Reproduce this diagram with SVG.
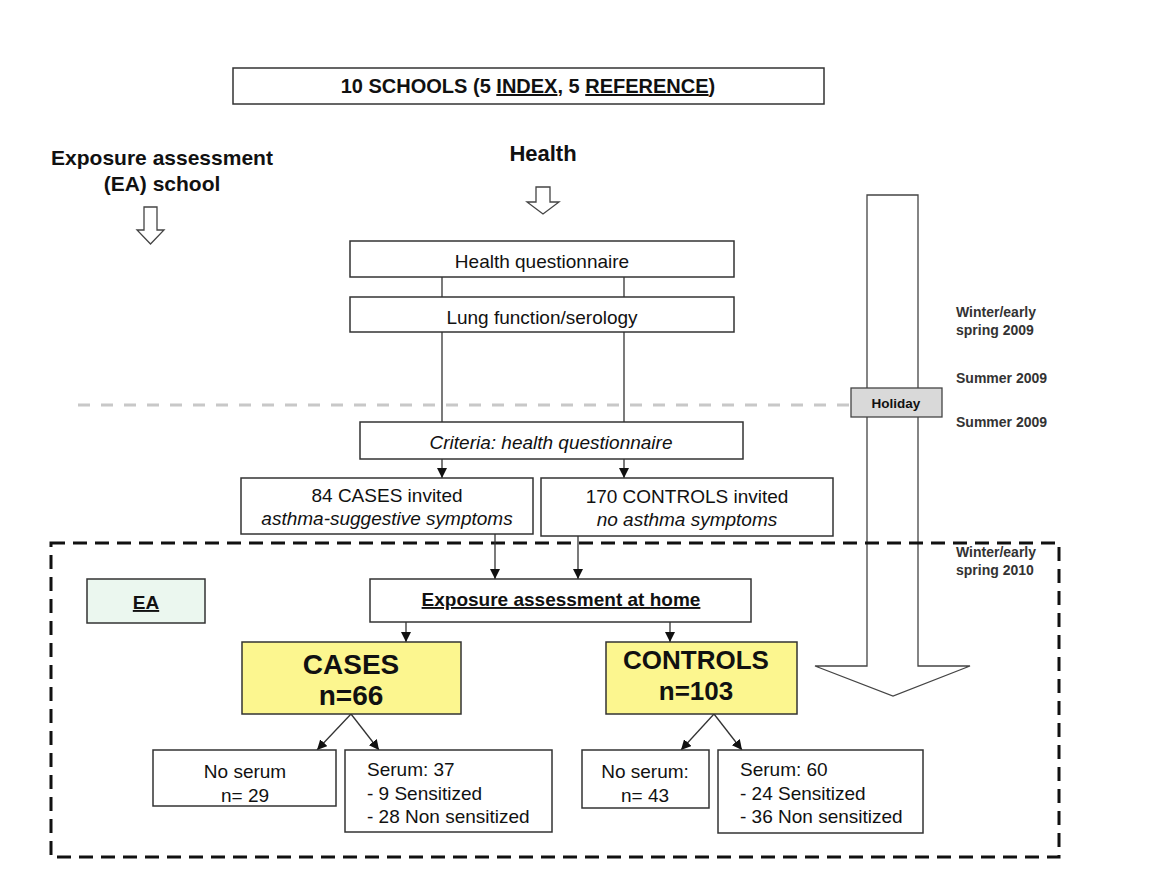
<svg xmlns="http://www.w3.org/2000/svg" width="1155" height="869" viewBox="0 0 1155 869">
<style>
text{font-family:"Liberation Sans",Arial,sans-serif;fill:#111}
.box{fill:#fff;stroke:#333;stroke-width:1.5}
.yel{fill:#fcf68f;stroke:#333;stroke-width:1.5}
.c{text-anchor:middle}
.b{font-weight:bold}
.i{font-style:italic}
.m{font-size:19px}
.ln{stroke:#333;stroke-width:1.3;fill:none}
.ar{stroke:#333;stroke-width:1.3;fill:none;marker-end:url(#ah)}
.side{font-size:14px;font-weight:bold;fill:#333}
.hol{fill:#fff;stroke:#444;stroke-width:1.3}
</style>
<defs>
<marker id="ah" viewBox="0 0 10 10" refX="10" refY="5" markerWidth="10" markerHeight="10" markerUnits="userSpaceOnUse" orient="auto">
<path d="M0,0 L10,5 L0,10 z" fill="#111"/>
</marker>
</defs>
<rect width="1155" height="869" fill="#fff"/>

<g id="schools">
<rect class="box" x="233" y="68" width="591" height="36"/>
<text class="c b" x="528" y="93" font-size="20">10 SCHOOLS (5 <tspan text-decoration="underline">INDEX</tspan>, 5 <tspan text-decoration="underline">REFERENCE</tspan>)</text>
</g>

<g id="ea-school">
<text class="c b" x="162" y="165" font-size="21">Exposure assessment</text>
<text class="c b" x="162" y="191" font-size="21">(EA) school</text>
<path class="hol" d="M144,207 H157 V230 H164 L150.5,244 L137,230 H144 Z"/>
</g>

<g id="health">
<text class="c b" x="543" y="161" font-size="22">Health</text>
<path class="hol" d="M536,187 H550 V202 H559 L543,214 L527,202 H536 Z"/>
</g>

<g id="timeline">
<path class="hol" d="M867,195 H918 V666 H970 L893,696 L815,666 H867 Z"/>
</g>

<g id="holiday-line">
<line x1="78" y1="405" x2="850" y2="405" stroke="#c8c8c8" stroke-width="3" stroke-dasharray="12,11"/>
</g>

<g id="holiday">
<rect x="851" y="388" width="91" height="29" fill="#d9d9d9" stroke="#444" stroke-width="1.3"/>
<text class="c b" x="896" y="408" font-size="13.5">Holiday</text>
</g>

<g id="period-labels">
<text class="side" x="956" y="317">Winter/early</text>
<text class="side" x="956" y="335">spring 2009</text>
<text class="side" x="956" y="383">Summer 2009</text>
<text class="side" x="956" y="427">Summer 2009</text>
<text class="side" x="956" y="557">Winter/early</text>
<text class="side" x="956" y="575">spring 2010</text>
</g>

<g id="ea-box-frame">
<rect x="51" y="543" width="1008" height="314" fill="none" stroke="#111" stroke-width="3" stroke-dasharray="14,8"/>
</g>

<g id="connectors">
<line class="ln" x1="442" y1="277" x2="442" y2="297"/>
<line class="ln" x1="624" y1="277" x2="624" y2="297"/>
<line class="ln" x1="442" y1="332" x2="442" y2="422"/>
<line class="ln" x1="624" y1="332" x2="624" y2="422"/>
<line class="ar" x1="442" y1="459" x2="442" y2="478"/>
<line class="ar" x1="624" y1="459" x2="624" y2="478"/>
<line class="ar" x1="495" y1="534" x2="495" y2="579"/>
<line class="ar" x1="578" y1="536" x2="578" y2="579"/>
<line class="ar" x1="406" y1="622" x2="406" y2="642"/>
<line class="ar" x1="670" y1="622" x2="670" y2="642"/>
<line class="ar" x1="351" y1="714" x2="317" y2="750"/>
<line class="ar" x1="351" y1="714" x2="379" y2="750"/>
<line class="ar" x1="714" y1="714" x2="681" y2="750"/>
<line class="ar" x1="714" y1="714" x2="742" y2="750"/>
</g>

<g id="health-questionnaire">
<rect class="box" x="350" y="241" width="384" height="36"/>
<text class="c m" x="542" y="268">Health questionnaire</text>
</g>

<g id="lung-function">
<rect class="box" x="350" y="297" width="384" height="35"/>
<text class="c m" x="542" y="324">Lung function/serology</text>
</g>

<g id="criteria">
<rect class="box" x="360" y="422" width="383" height="37"/>
<text class="c i m" x="551" y="449">Criteria: health questionnaire</text>
</g>

<g id="cases-invited">
<rect class="box" x="241" y="478" width="292" height="56"/>
<text class="c m" x="387" y="502">84 CASES invited</text>
<text class="c i m" x="387" y="525">asthma-suggestive symptoms</text>
</g>

<g id="controls-invited">
<rect class="box" x="541" y="478" width="292" height="58"/>
<text class="c m" x="687" y="503">170 CONTROLS invited</text>
<text class="c i m" x="687" y="526">no asthma symptoms</text>
</g>

<g id="ea">
<rect x="87" y="579" width="118" height="44" fill="#ebf7ef" stroke="#333" stroke-width="1.5"/>
<text class="c b m" x="146" y="609" text-decoration="underline">EA</text>
</g>

<g id="exposure-home">
<rect class="box" x="370" y="579" width="381" height="43"/>
<text class="c b m" x="561" y="606" text-decoration="underline">Exposure assessment at home</text>
</g>

<g id="cases">
<rect class="yel" x="242" y="642" width="219" height="72"/>
<text class="c b" x="351" y="674" font-size="28">CASES</text>
<text class="c b" x="351" y="705" font-size="28">n=66</text>
</g>

<g id="controls">
<rect class="yel" x="606" y="642" width="191" height="72"/>
<text class="c b" x="696" y="669" font-size="26">CONTROLS</text>
<text class="c b" x="696" y="700" font-size="26">n=103</text>
</g>

<g id="cases-no-serum">
<rect class="box" x="153" y="750" width="183" height="56"/>
<text class="c m" x="245" y="778">No serum</text>
<text class="c m" x="245" y="802">n= 29</text>
</g>

<g id="cases-serum">
<rect class="box" x="345" y="750" width="207" height="82"/>
<text class="m" x="367" y="776">Serum: 37</text>
<text class="m" x="367" y="800">- 9 Sensitized</text>
<text class="m" x="367" y="823">- 28 Non sensitized</text>
</g>

<g id="controls-no-serum">
<rect class="box" x="582" y="750" width="127" height="58"/>
<text class="c m" x="645" y="778">No serum:</text>
<text class="c m" x="645" y="802">n= 43</text>
</g>

<g id="controls-serum">
<rect class="box" x="718" y="750" width="205" height="83"/>
<text class="m" x="740" y="776">Serum: 60</text>
<text class="m" x="740" y="800">- 24 Sensitized</text>
<text class="m" x="740" y="823">- 36 Non sensitized</text>
</g>
</svg>
